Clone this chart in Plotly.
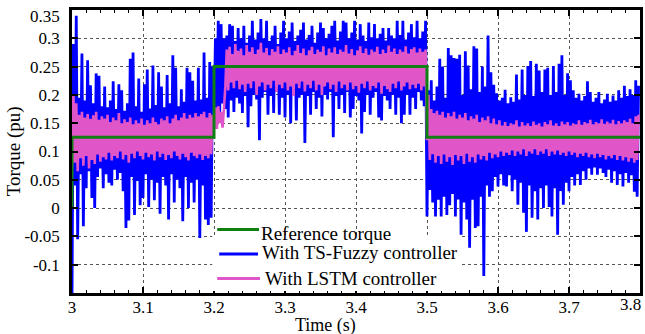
import plotly.graph_objects as go

# ---------------------------------------------------------------------------
# Torque response, 3.0 s .. 3.8 s.  Each controller trace is stored as pairs
# of (low peak, high peak) in milli-pu, one pair every 4 ms.
# ---------------------------------------------------------------------------
T0 = 3.0
DT = 0.004

# Reference torque (step profile)
ref_t = [3.0, 3.0, 3.2, 3.5, 3.8]
ref_val = [0.0, 0.125, 0.25, 0.125, 0.125]

# TS-Fuzzy controller: low peaks
fuzzy_lo = [
    -160, 40, -55, 60, -32, 35, 65, 18, 0, 55,
    70, 35, 60, 45, 40, 68, 50, 62, 30, -35,
    -22, 55, -12, 48, 5, 18, 60, 2, 50, 14,
    45, -10, 55, 40, -20, 60, 10, 50, 35, -23,
    55, 0, 45, 10, 50, -53, 40, -20, -30, -17,
    140, 175, 165, 185, 175, 160, 190, 170, 195, 185,
    168, 198, 143, 180, 200, 192, 120, 195, 205, 165,
    198, 168, 205, 165, 195, 160, 200, 150, 205, 155,
    195, 200, 115, 198, 165, 205, 175, 195, 162, 200,
    192, 205, 125, 198, 175, 200, 168, 205, 160, 175,
    198, 190, 132, 170, 200, 165, 195, 205, 160, 155,
    198, 190, 175, 200, 165, 195, 150, 165, 200, 165,
    195, 175, 205, 190, 180,
    -15, 32, 10, -15, 15, -15, 20, -12, 5, 25,
    -15, 15, -47, 10, -20, -70, 15, -35, -32, 20,
    -120, 40, 20, 30, 55, 38, 60, 40, 38, 58,
    30, 50, 6, 45, -8, -42, 40, -17, 30, -20,
    35, 0, 40, 2, -15, 35, -47, 30, 6, 45,
    30, 55, 40, 60, 41, 65, 50, 70, 59, 72,
    59, 70, 62, 55, 68, 45, 65, 41, 60, 38,
    62, 45, 58, 29, 20,
]

# TS-Fuzzy controller: high peaks
fuzzy_hi = [
    290, 340, 195, 273, 190, 261, 217, 185, 238, 234,
    180, 215, 178, 190, 224, 175, 219, 208, 172, 185,
    264, 275, 180, 229, 170, 219, 245, 176, 252, 182,
    240, 215, 178, 235, 185, 270, 248, 180, 210, 188,
    248, 240, 225, 190, 248, 192, 275, 195, 258, 250,
    300, 331, 325, 300, 305, 325, 322, 295, 318, 300,
    322, 292, 305, 331, 298, 310, 334, 300, 331, 295,
    305, 322, 290, 310, 331, 300, 312, 328, 295, 305,
    315, 328, 298, 306, 322, 292, 310, 328, 318, 300,
    308, 322, 331, 296, 312, 331, 328, 300, 310, 331,
    298, 325, 305, 295, 328, 302, 325, 300, 308, 318,
    296, 318, 305, 300, 331, 306, 331, 298, 310, 325,
    302, 331, 300, 312, 331,
    208, 226, 190, 215, 264, 250, 195, 283, 270, 265,
    264, 271, 200, 277, 252, 210, 286, 282, 205, 250,
    215, 305, 240, 218, 203, 190, 195, 209, 185, 196,
    188, 236, 192, 245, 200, 251, 260, 198, 255, 243,
    205, 245, 248, 200, 251, 205, 255, 270, 200, 238,
    226, 208, 195, 202, 190, 198, 224, 205, 188, 195,
    205, 185, 192, 202, 188, 199, 190, 208, 195, 216,
    198, 210, 200, 226, 216,
]

# LSTM controller: low peaks
lstm_lo = [
    70, 80, 65, 88, 75, 92, 70, 85, 78, 95,
    82, 90, 86, 98, 84, 92, 88, 100, 86, 94,
    80, 96, 88, 100, 92, 86, 98, 90, 95, 84,
    100, 90, 96, 85, 94, 88, 100, 92, 86, 96,
    90, 84, 98, 92, 88, 95, 85, 92, 88, 95,
    145, 140, 150, 142, 215, 208, 222, 212, 225, 210,
    218, 205, 220, 212, 224, 200, 215, 222, 208, 218,
    212, 225, 205, 218, 212, 222, 208, 215, 198, 220,
    212, 224, 206, 218, 212, 225, 208, 218, 200, 215,
    222, 210, 218, 205, 224, 212, 218, 208, 222, 210,
    216, 204, 220, 212, 224, 208, 216, 212, 222, 202,
    216, 210, 205, 220, 212, 224, 208, 215, 222, 210,
    218, 212, 220, 208, 215,
    120, 85, 95, 80, 92, 78, 95, 82, 90, 76,
    94, 84, 92, 78, 96, 82, 90, 80, 95, 86,
    92, 84, 98, 88, 95, 90, 100, 92, 98, 94,
    102, 92, 100, 95, 104, 92, 100, 96, 104, 94,
    100, 96, 104, 92, 100, 95, 102, 94, 98, 92,
    100, 94, 98, 90, 96, 92, 98, 90, 95, 88,
    96, 90, 94, 86, 92, 88, 94, 85, 92, 84,
    90, 82, 88, 80, 85,
]

# LSTM controller: high peaks
lstm_hi = [
    200, 185, 165, 170, 160, 166, 158, 164, 170, 156,
    162, 158, 165, 152, 160, 155, 168, 150, 157, 152,
    160, 148, 155, 150, 158, 147, 155, 150, 160, 152,
    148, 158, 155, 162, 150, 158, 165, 155, 160, 168,
    158, 165, 160, 168, 162, 166, 170, 160, 168, 165,
    178, 180, 170, 176, 280, 285, 272, 290, 278, 282,
    270, 288, 276, 284, 272, 280, 292, 275, 283, 270,
    281, 276, 286, 272, 280, 275, 284, 270, 278, 288,
    274, 282, 270, 279, 285, 272, 280, 276, 286, 270,
    282, 275, 284, 272, 280, 276, 288, 273, 281, 270,
    279, 286, 274, 282, 271, 280, 276, 285, 272, 280,
    274, 287, 276, 282, 272, 280, 276, 286, 273, 281,
    284, 275, 282, 276, 280,
    200, 175, 168, 172, 165, 170, 160, 168, 162, 170,
    158, 165, 160, 168, 155, 162, 158, 165, 152, 160,
    155, 162, 150, 158, 148, 155, 146, 152, 145, 150,
    148, 155, 144, 152, 146, 150, 145, 153, 147, 150,
    144, 152, 148, 155, 146, 150, 145, 153, 148, 152,
    146, 150, 148, 155, 147, 152, 150, 156, 148, 152,
    150, 157, 149, 153, 150, 156, 148, 154, 150, 155,
    152, 158, 150, 162, 165,
]

x_ticks = [3.0, 3.1, 3.2, 3.3, 3.4, 3.5, 3.6, 3.7, 3.8]
x_tick_text = ["3", "3.1", "3.2", "3.3", "3.4", "3.5", "3.6", "3.7", ""]
y_ticks = [-0.1, -0.05, 0, 0.05, 0.1, 0.15, 0.2, 0.25, 0.3, 0.35]
y_tick_text = ["-0.1", "-0.05", "0", "0.05", "0.1", "0.15", "0.2", "0.25", "0.3", ""]

legend_names = ["Reference torque", "With TS-Fuzzy controller", "With LSTM controller"]

C_REF = "#0f7f12"
C_FUZZY = "#0000ff"
C_LSTM = "#e055c8"
FONT = "Liberation Serif, Times New Roman, Times, DejaVu Serif, serif"

W, H = 645, 334
ML, MR, MT, MB = 72, 2, 10, 41


def peaks_to_series(lo, hi):
    """Turn low/high peak pairs (milli-pu) into a zig-zag time series."""
    t, v = [], []
    for k, (a, b) in enumerate(zip(lo, hi)):
        t += [T0 + k * DT, T0 + k * DT + DT / 2]
        v += [a / 1000.0, b / 1000.0]
    return t, v


def px_x(p):
    return (p - ML) / (W - ML - MR)


def px_y(p):
    return (H - MB - p) / (H - MT - MB)


fig = go.Figure()

t_f, v_f = peaks_to_series(fuzzy_lo, fuzzy_hi)
fig.add_trace(go.Scatter(x=t_f, y=v_f, mode="lines", name=legend_names[1],
                         line=dict(color=C_FUZZY, width=2.8, simplify=False)))

t_l, v_l = peaks_to_series(lstm_lo, lstm_hi)
fig.add_trace(go.Scatter(x=t_l, y=v_l, mode="lines", name=legend_names[2],
                         line=dict(color=C_LSTM, width=2.6, simplify=False)))

fig.add_trace(go.Scatter(x=ref_t, y=ref_val, mode="lines", name=legend_names[0],
                         line=dict(color=C_REF, width=3, shape="hv")))

axis_common = dict(
    showline=True, linewidth=2.5, linecolor="black", mirror="ticks",
    ticks="inside", ticklen=6, tickwidth=2, tickcolor="black",
    showgrid=True, gridcolor="#555555", gridwidth=1, griddash="dot",
    zeroline=False, tickfont=dict(family=FONT, size=17, color="black"),
)

fig.update_xaxes(range=[3.0, 3.8], tickmode="array", tickvals=x_ticks,
                 ticktext=x_tick_text, ticklabelstandoff=-3,
                 minor=dict(tickmode="linear", tick0=3.0, dtick=0.02,
                            ticks="inside", ticklen=3, tickcolor="black",
                            tickwidth=1, showgrid=False),
                 **axis_common)
fig.update_yaxes(range=[-0.15, 0.35], tickmode="array", tickvals=y_ticks,
                 ticktext=y_tick_text, ticklabelstandoff=6, **axis_common)

# Legend panel drawn inside the axes
shapes = [dict(type="rect", xref="paper", yref="paper",
               x0=px_x(213), x1=px_x(464), y0=px_y(291), y1=px_y(235),
               fillcolor="white", line=dict(width=0), layer="above")]
annotations = []
legend_rows = [
    (legend_names[0], C_REF, 218, 260, 229.5, 260, 233),
    (legend_names[1], C_FUZZY, 220, 259, 254, 261, 252),
    (legend_names[2], C_LSTM, 218, 261, 278.5, 264, 278),
]
for name, col, lx0, lx1, ly, tx, ty in legend_rows:
    shapes.append(dict(type="line", xref="paper", yref="paper",
                       x0=px_x(lx0), x1=px_x(lx1), y0=px_y(ly), y1=px_y(ly),
                       line=dict(color=col, width=3), layer="above"))
    annotations.append(dict(text=name, xref="paper", yref="paper",
                            x=px_x(tx), y=px_y(ty), xanchor="left",
                            yanchor="middle", showarrow=False,
                            font=dict(family=FONT, size=19, color="black")))

# Axis titles and the end tick labels
annotations.append(dict(text="Time (s)", xref="paper", yref="paper",
                        x=px_x(327), y=px_y(325), xanchor="center",
                        yanchor="middle", showarrow=False, borderpad=0,
                        font=dict(family=FONT, size=18, color="black")))
annotations.append(dict(text="Torque (pu)", xref="paper", yref="paper",
                        x=px_x(14), y=px_y(151), xanchor="center",
                        yanchor="middle", textangle=-90, showarrow=False,
                        font=dict(family=FONT, size=19, color="black")))
annotations.append(dict(text="3.8", xref="paper", yref="paper",
                        x=px_x(633), y=px_y(304), xanchor="center",
                        yanchor="middle", showarrow=False,
                        font=dict(family=FONT, size=17, color="black")))
annotations.append(dict(text="0.35", xref="paper", yref="paper",
                        x=px_x(62), y=px_y(16), xanchor="right",
                        yanchor="middle", showarrow=False,
                        font=dict(family=FONT, size=17, color="black")))

fig.update_layout(
    width=W, height=H,
    margin=dict(l=ML, r=MR, t=MT, b=MB),
    plot_bgcolor="white", paper_bgcolor="white",
    showlegend=False,
    font=dict(family=FONT, size=17, color="black"),
    shapes=shapes, annotations=annotations,
)

fig.write_html("out.html")
